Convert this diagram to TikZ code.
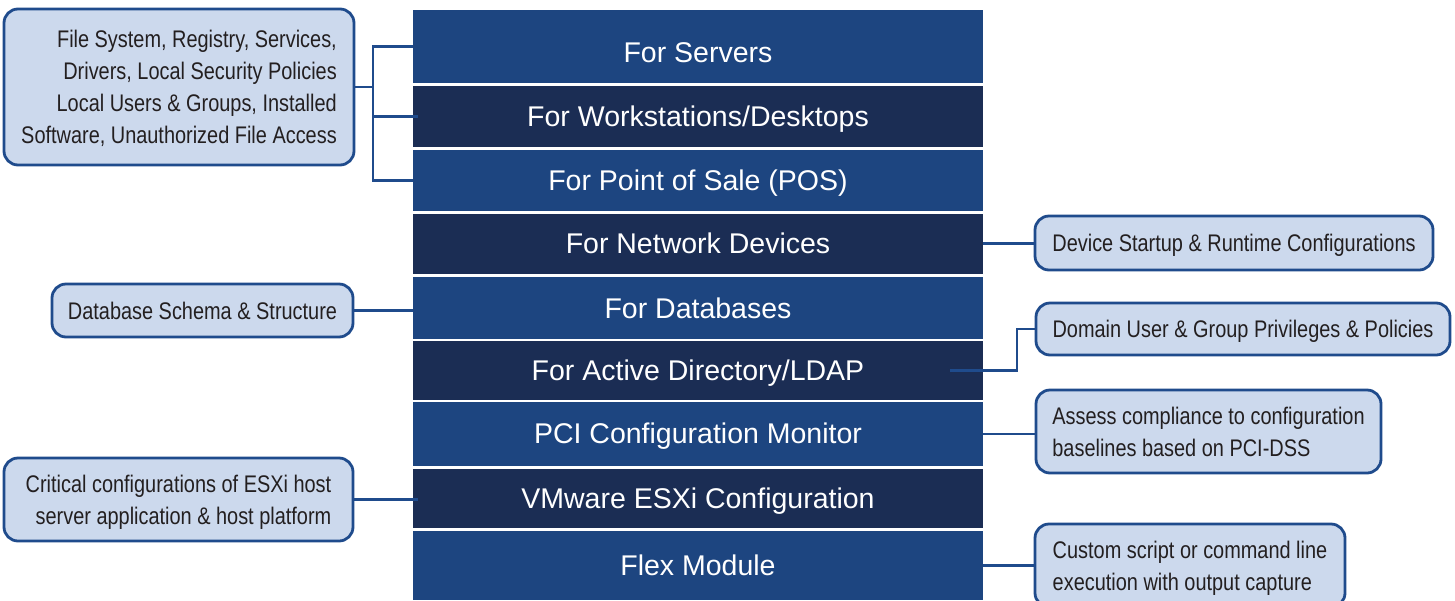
\documentclass[tikz,border=0pt]{standalone}
\usepackage{fontspec}
\setmainfont{Liberation Sans}
\newfontfamily\narrowfont[FakeStretch=0.83]{Liberation Sans}
\definecolor{rowlite}{RGB}{29,69,128}
\definecolor{rowdark}{RGB}{27,45,84}
\definecolor{notefill}{RGB}{204,217,237}
\definecolor{noteline}{RGB}{31,75,140}
\definecolor{notetext}{RGB}{35,31,32}
\tikzset{
  layer/.style={minimum width=570pt, inner sep=0pt, text height=20.4pt, text depth=0pt,
    text=white, font=\fontsize{28.5}{32}\selectfont},
  lite/.style={layer, fill=rowlite},
  dark/.style={layer, fill=rowdark},
  note/.style={draw=noteline, line width=2.8pt, fill=notefill, rounded corners=14pt,
    inner xsep=15pt, inner ysep=0pt, text height=17pt, text depth=0pt,
    text=notetext, font=\narrowfont\fontsize{24}{32}\selectfont},
  twolines/.style={text height=49pt},
  fourlines/.style={text height=113pt},
  link/.style={draw=noteline, line width=2.5pt}
}
\begin{document}
\begin{tikzpicture}[x=1pt, y=-1pt]
    \useasboundingbox (0,0) rectangle (1455,600);
    \clip (0,0) rectangle (1455,600);
    \node[lite, minimum height=73pt, text height=31.5pt] (srv) at (698,46.5) {For Servers};
    \node[dark, minimum height=61pt] (wks) at (698,116.5) {For Workstations/Desktops};
    \node[lite, minimum height=61.5pt] (pos) at (698,180.25) {For Point of Sale (POS)};
    \node[dark, minimum height=60pt] (net) at (698,243.5) {For Network Devices};
    \node[lite, minimum height=62pt] (db) at (698,308) {For Databases};
    \node[dark, minimum height=58.5pt] (ad) at (698,370.25) {For Active Directory/LDAP};
    \node[lite, minimum height=63.5pt] (pci) at (698,433.75) {PCI Configuration Monitor};
    \node[dark, minimum height=59pt] (esx) at (698,498.5) {VMware ESXi Configuration};
    \node[lite, minimum height=69pt] (flex) at (698,565.5) {Flex Module};

    \node[note, fourlines, align=right, minimum width=350pt, minimum height=156pt] (srvbox) at (179,87)
        {File System, Registry, Services,\\ Drivers, Local Security Policies\\
         Local Users \& Groups, Installed\\ Software, Unauthorized File Access};
    \node[note, minimum width=301pt, minimum height=53pt] (dbbox) at (202.5,310.5)
        {Database Schema \& Structure};
    \node[note, twolines, align=right, minimum width=349pt, minimum height=83pt] (esxbox) at (178.5,499.5)
        {Critical configurations of ESXi host\\ server application \& host platform};
    \node[note, minimum width=398pt, minimum height=54pt] (devbox) at (1234,243)
        {Device Startup \& Runtime Configurations};
    \node[note, minimum width=414pt, minimum height=52pt] (dombox) at (1243,329)
        {Domain User \& Group Privileges \& Policies};
    \node[note, twolines, align=left, minimum width=345pt, minimum height=83pt] (pcibox) at (1208.5,431.5)
        {Assess compliance to configuration\\ baselines based on PCI-DSS};
    \node[note, twolines, align=left, minimum width=310pt, minimum height=83pt] (flexbox) at (1190,565.5)
        {Custom script or command line\\ execution with output capture};

    \coordinate (brk) at (373,116);
    \draw[link] (srvbox.east) -- (srvbox.east -| brk);
    \draw[link] (srv.west) -| (brk |- pos.west) -- (pos.west);
    \draw[link] ([xshift=5pt]wks.west) -- (wks.west -| brk);
    \draw[link] (dbbox.east) -- (dbbox.east -| db.west);
    \draw[link] (esxbox.east) -- ([xshift=5pt]esx.west |- esxbox.east);
    \draw[link] (net.east) -- (net.east -| devbox.west);
    \draw[link] ([xshift=-33pt]ad.east) -- ++(67,0) |- (dombox.west);
    \draw[link] (pci.east) -- (pci.east -| pcibox.west);
    \draw[link] (flex.east) -- (flex.east -| flexbox.west);
\end{tikzpicture}
\end{document}
